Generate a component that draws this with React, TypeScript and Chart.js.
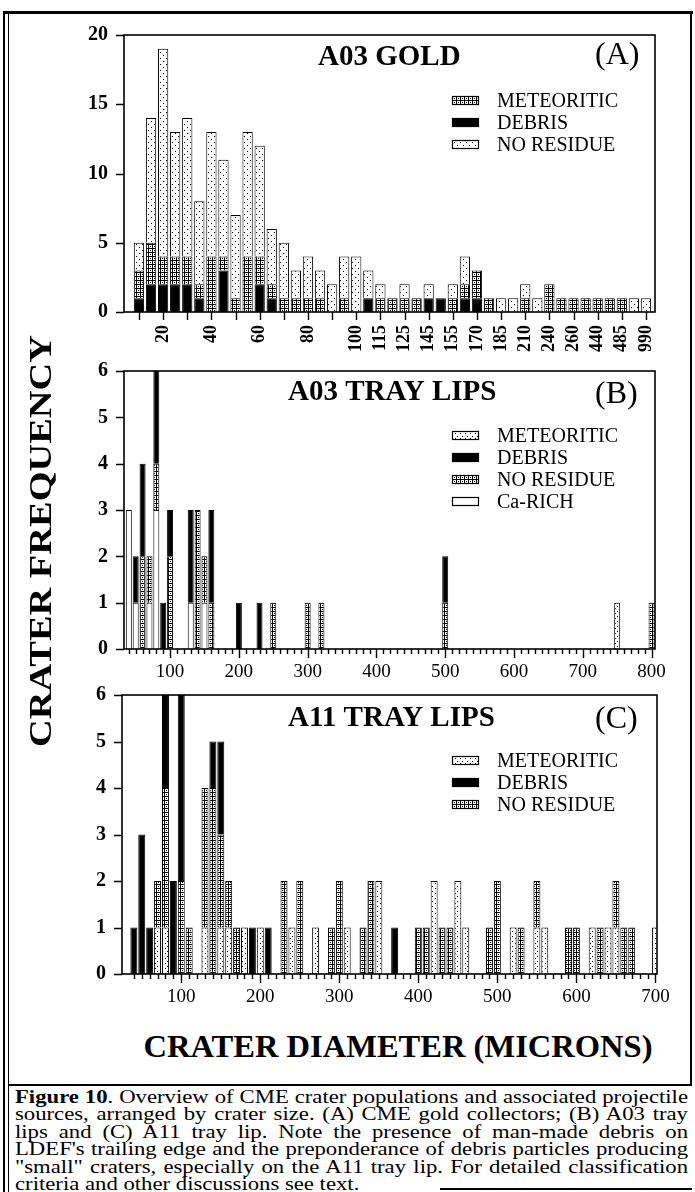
import React, { useEffect, useRef } from 'react';
import { Chart, registerables } from 'chart.js';

Chart.register(...registerables);

const SERIF = '"Liberation Serif", "Times New Roman", Times, serif';

// ---------- Panel A : A03 GOLD (size classes, one bar per class) ----------
const tickLabelsA = ['', '', '20', '', '', '', '40', '', '', '', '60', '', '', '', '80', '', '', '', '100', '', '115', '', '125', '', '145', '', '155', '', '170', '', '185', '', '210', '', '240', '', '260', '', '440', '', '485', '', '990'];
const debrisA = [1, 2, 2, 2, 2, 1, 0, 3, 0, 0, 2, 1, 0, 0, 0, 0, 0, 0, 0, 1, 0, 0, 0, 0, 1, 1, 0, 1, 1, 0, 0, 0, 0, 0, 0, 0, 0, 0, 0, 0, 0, 0, 0];
const meteoriticA = [2, 3, 2, 2, 2, 1, 4, 1, 1, 4, 2, 1, 1, 1, 1, 1, 0, 1, 0, 0, 1, 1, 1, 1, 0, 0, 1, 1, 2, 1, 0, 0, 1, 0, 2, 1, 1, 1, 1, 1, 1, 0, 0];
const noResidueA = [2, 9, 15, 9, 10, 6, 9, 7, 6, 9, 8, 4, 4, 2, 3, 2, 2, 3, 4, 2, 1, 0, 1, 0, 1, 0, 1, 2, 0, 0, 1, 1, 1, 1, 0, 0, 0, 0, 0, 0, 0, 1, 1];

// ---------- Panel B : A03 TRAY LIPS (diameter in microns) ----------
const diametersB = [40, 50, 60, 70, 80, 90, 100, 130, 140, 150, 160, 200, 230, 250, 300, 320, 500, 750, 800];
const caRichB = [3, 1, 0, 1, 3, 0, 0, 1, 0, 1, 0, 0, 0, 0, 0, 0, 0, 0, 0];
const meteoriticB = [0, 0, 0, 0, 0, 0, 0, 0, 0, 0, 0, 0, 0, 0, 0, 0, 0, 1, 0];
const noResidueB = [0, 0, 2, 1, 1, 0, 2, 0, 3, 1, 1, 0, 0, 1, 1, 1, 1, 0, 1];
const debrisB = [0, 1, 2, 0, 2, 1, 1, 2, 0, 0, 2, 1, 1, 0, 0, 0, 1, 0, 0];

// ---------- Panel C : A11 TRAY LIPS (diameter in microns) ----------
const diametersC = [40, 50, 60, 70, 80, 90, 100, 110, 130, 140, 150, 160, 170, 180, 190, 200, 210, 230, 240, 250, 270, 290, 300, 310, 330, 340, 350, 370, 400, 410, 420, 430, 440, 450, 460, 490, 500, 520, 530, 550, 560, 590, 600, 620, 630, 640, 650, 660, 670, 700];
const meteoriticC = [0, 0, 0, 1, 1, 0, 0, 0, 1, 0, 1, 1, 0, 1, 0, 1, 0, 0, 1, 0, 1, 0, 0, 1, 0, 0, 2, 0, 0, 0, 2, 0, 0, 2, 1, 0, 0, 1, 0, 1, 1, 0, 0, 1, 0, 1, 1, 0, 0, 1];
const noResidueC = [0, 0, 0, 1, 3, 0, 2, 1, 3, 4, 2, 1, 1, 0, 0, 0, 0, 2, 0, 2, 0, 1, 2, 0, 1, 2, 0, 0, 1, 1, 0, 1, 1, 0, 0, 1, 2, 0, 1, 1, 0, 1, 1, 0, 1, 0, 1, 1, 1, 0];
const debrisC = [1, 3, 1, 0, 2, 2, 4, 0, 0, 1, 2, 0, 0, 0, 1, 0, 1, 0, 0, 0, 0, 0, 0, 0, 0, 0, 0, 1, 0, 0, 0, 0, 0, 0, 0, 0, 0, 0, 0, 0, 0, 0, 0, 0, 0, 0, 0, 0, 0, 0];

const captionLines = [
  ['Figure 10', '. Overview of CME crater populations and associated projectile'],
  ['', 'sources, arranged by crater size.  (A) CME gold collectors; (B) A03 tray'],
  ['', 'lips and (C) A11 tray lip.  Note the presence of man-made debris on'],
  ['', "LDEF's trailing edge and the preponderance of debris particles producing"],
  ['', '"small" craters, especially on the A11 tray lip.  For detailed classification'],
  ['', 'criteria and other discussions see text.'],
];

// ---------- helpers ----------
function makePattern(size: number, draw: (g: CanvasRenderingContext2D) => void) {
  const c = document.createElement('canvas');
  c.width = size;
  c.height = size;
  const g = c.getContext('2d')!;
  g.fillStyle = '#fff';
  g.fillRect(0, 0, size, size);
  g.fillStyle = '#000';
  draw(g);
  return g.createPattern(c, 'repeat')!;
}

let measureCtx: CanvasRenderingContext2D | null = null;
function measure(text: string, font: string) {
  if (!measureCtx) measureCtx = document.createElement('canvas').getContext('2d');
  measureCtx!.font = font;
  return measureCtx!.measureText(text).width;
}

function pts(xs: number[], ys: number[]) {
  return ys.map((y, i) => ({ x: xs[i], y })).filter((p) => p.y > 0);
}

type LegendItem = { label: string; ds: number };
type PanelSpec = {
  top: number;
  height: number;
  left: number;
  right: number;
  plotTop: number;
  plotBottom: number;
  xMin: number;
  xMax: number;
  yMax: number;
  yStep: number;
  xTicks: number[];
  xTickLen: (v: number) => number;
  xLabel: (v: number) => string;
  xFont: { family: string; size: number; weight: string };
  xRotation: number;
  xPadding: number;
  barPct: number;
  title: string;
  titleX: number;
  titleBase: number;
  letter: string;
  letterX: number;
  letterBase: number;
  legendRows: number[];
  legend: LegendItem[];
  datasets: { label: string; data: { x: number; y: number }[]; backgroundColor: any }[];
};

function panelPlugin(p: PanelSpec) {
  return {
    id: 'panelDecor' + p.letter.replace(/[()]/g, ''),
    afterDatasetsDraw(chart: any) {
      const { ctx, chartArea: a, scales } = chart;
      const xs = scales.x;
      const ys = scales.y;
      ctx.save();
      ctx.strokeStyle = '#000';
      ctx.lineWidth = 1.6;
      ctx.strokeRect(a.left, a.top, a.right - a.left, a.bottom - a.top);
      ctx.lineWidth = 1.4;
      ctx.beginPath();
      for (const t of xs.ticks) {
        const len = p.xTickLen(t.value);
        if (!len) continue;
        const px = Math.round(xs.getPixelForValue(t.value)) + 0.5;
        ctx.moveTo(px, a.bottom);
        ctx.lineTo(px, a.bottom + len);
      }
      for (const t of ys.ticks) {
        const py = Math.round(ys.getPixelForValue(t.value)) + 0.5;
        ctx.moveTo(a.left, py);
        ctx.lineTo(a.left - 8, py);
      }
      ctx.stroke();

      ctx.fillStyle = '#000';
      ctx.textAlign = 'left';
      ctx.textBaseline = 'alphabetic';
      ctx.font = `bold 29px ${SERIF}`;
      ctx.fillText(p.title, p.titleX, p.titleBase - p.top);
      ctx.font = `32px ${SERIF}`;
      ctx.fillText(p.letter, p.letterX, p.letterBase - p.top);

      ctx.font = `20px ${SERIF}`;
      p.legend.forEach((it, i) => {
        const cy = p.legendRows[i] - p.top;
        const ds = chart.data.datasets[it.ds];
        ctx.fillStyle = ds.backgroundColor;
        ctx.fillRect(452, cy - 4, 26, 8);
        ctx.lineWidth = 1.2;
        ctx.strokeStyle = '#000';
        ctx.strokeRect(452.5, cy - 3.5, 26, 8);
        ctx.fillStyle = '#000';
        ctx.fillText(it.label, 497, cy + 7);
      });
      ctx.restore();
    },
  };
}

function buildConfig(p: PanelSpec): any {
  return {
    type: 'bar',
    data: {
      datasets: p.datasets.map((d) => ({
        ...d,
        borderColor: '#000',
        borderWidth: 1,
        barPercentage: p.barPct,
        categoryPercentage: 1,
      })),
    },
    options: {
      responsive: false,
      maintainAspectRatio: false,
      animation: false,
      layout: { padding: { top: p.plotTop - p.top, right: 695 - p.right, left: 0, bottom: 0 } },
      plugins: { legend: { display: false }, tooltip: { enabled: false }, title: { display: false } },
      scales: {
        x: {
          type: 'linear',
          min: p.xMin,
          max: p.xMax,
          offset: false,
          stacked: true,
          grid: { display: false, drawTicks: false, offset: false },
          border: { display: false },
          afterBuildTicks: (s: any) => {
            s.ticks = p.xTicks.map((v) => ({ value: v }));
          },
          afterFit: (s: any) => {
            s.height = p.top + p.height - p.plotBottom;
          },
          ticks: {
            autoSkip: false,
            minRotation: p.xRotation,
            maxRotation: p.xRotation,
            padding: p.xPadding,
            color: '#000',
            font: p.xFont,
            callback: (v: number) => p.xLabel(v),
          },
        },
        y: {
          min: 0,
          max: p.yMax,
          stacked: true,
          grid: { display: false, drawTicks: false },
          border: { display: false },
          afterFit: (s: any) => {
            s.width = p.left;
          },
          ticks: {
            stepSize: p.yStep,
            padding: 16,
            color: '#000',
            font: { family: SERIF, size: 20, weight: 'bold' },
          },
        },
      },
    },
    plugins: [panelPlugin(p)],
  };
}

function Panel({ make }: { make: () => PanelSpec }) {
  const ref = useRef<HTMLCanvasElement>(null);
  const specRef = useRef<PanelSpec | null>(null);
  if (!specRef.current) specRef.current = make();
  const spec = specRef.current;
  useEffect(() => {
    const chart = new Chart(ref.current!, buildConfig(spec));
    return () => chart.destroy();
  }, []);
  return (
    <canvas
      ref={ref}
      width={695}
      height={spec.height}
      style={{ position: 'absolute', left: 0, top: spec.top, width: 695, height: spec.height }}
    />
  );
}

const range = (a: number, b: number, s: number) => {
  const out: number[] = [];
  for (let v = a; v <= b; v += s) out.push(v);
  return out;
};

function specA(): PanelSpec {
  const dense = makePattern(4, (g) => { g.fillRect(0, 0, 4, 1); g.fillRect(0, 0, 1, 4); g.fillRect(2, 2, 1, 1); });
  const sparse = makePattern(6, (g) => { g.fillRect(1, 1, 1, 1); g.fillRect(4, 4, 1, 1); });
  const idx = tickLabelsA.map((_, i) => i);
  return {
    top: 0, height: 365, left: 124, right: 655, plotTop: 35, plotBottom: 312,
    xMin: -1.24, xMax: 42.75, yMax: 20, yStep: 5,
    xTicks: idx.filter((i) => i % 2 === 0),
    xTickLen: () => 8,
    xLabel: (v) => tickLabelsA[v] ?? '',
    xFont: { family: SERIF, size: 18, weight: 'bold' },
    xRotation: 90, xPadding: 13, barPct: 0.85,
    title: 'A03 GOLD', titleX: 318, titleBase: 65,
    letter: '(A)', letterX: 595, letterBase: 64,
    legendRows: [100, 122, 144],
    legend: [{ label: 'METEORITIC', ds: 1 }, { label: 'DEBRIS', ds: 0 }, { label: 'NO RESIDUE', ds: 2 }],
    datasets: [
      { label: 'DEBRIS', data: pts(idx, debrisA), backgroundColor: '#000' },
      { label: 'METEORITIC', data: pts(idx, meteoriticA), backgroundColor: dense },
      { label: 'NO RESIDUE', data: pts(idx, noResidueA), backgroundColor: sparse },
    ],
  };
}

function specB(): PanelSpec {
  const dense = makePattern(4, (g) => { g.fillRect(0, 0, 4, 1); g.fillRect(0, 0, 1, 4); g.fillRect(2, 2, 1, 1); });
  const sparse = makePattern(5, (g) => { g.fillRect(2, 1, 1, 1); g.fillRect(0, 3, 1, 1); });
  return {
    top: 335, height: 350, left: 124, right: 655, plotTop: 371, plotBottom: 649,
    xMin: 33, xMax: 805, yMax: 6, yStep: 1,
    xTicks: range(40, 800, 10),
    xTickLen: (v) => (v % 100 === 0 ? 9 : 5),
    xLabel: (v) => (v % 100 === 0 ? String(v) : ''),
    xFont: { family: SERIF, size: 19, weight: 'normal' },
    xRotation: 0, xPadding: 12, barPct: 0.87,
    title: 'A03 TRAY LIPS', titleX: 288, titleBase: 400,
    letter: '(B)', letterX: 595, letterBase: 403,
    legendRows: [435, 457, 479, 501],
    legend: [
      { label: 'METEORITIC', ds: 1 },
      { label: 'DEBRIS', ds: 3 },
      { label: 'NO RESIDUE', ds: 2 },
      { label: 'Ca-RICH', ds: 0 },
    ],
    datasets: [
      { label: 'Ca-RICH', data: pts(diametersB, caRichB), backgroundColor: '#fff' },
      { label: 'METEORITIC', data: pts(diametersB, meteoriticB), backgroundColor: sparse },
      { label: 'NO RESIDUE', data: pts(diametersB, noResidueB), backgroundColor: dense },
      { label: 'DEBRIS', data: pts(diametersB, debrisB), backgroundColor: '#000' },
    ],
  };
}

function specC(): PanelSpec {
  const dense = makePattern(4, (g) => { g.fillRect(0, 0, 4, 1); g.fillRect(0, 0, 1, 4); g.fillRect(2, 2, 1, 1); });
  const sparse = makePattern(5, (g) => { g.fillRect(2, 1, 1, 1); g.fillRect(0, 3, 1, 1); });
  return {
    top: 660, height: 355, left: 122, right: 657, plotTop: 695, plotBottom: 974,
    xMin: 25, xMax: 702, yMax: 6, yStep: 1,
    xTicks: range(40, 700, 10),
    xTickLen: (v) => (v % 100 === 0 ? 9 : 5),
    xLabel: (v) => (v % 100 === 0 ? String(v) : ''),
    xFont: { family: SERIF, size: 19, weight: 'normal' },
    xRotation: 0, xPadding: 12, barPct: 0.88,
    title: 'A11 TRAY LIPS', titleX: 288, titleBase: 726,
    letter: '(C)', letterX: 595, letterBase: 728,
    legendRows: [760, 782, 804],
    legend: [{ label: 'METEORITIC', ds: 0 }, { label: 'DEBRIS', ds: 2 }, { label: 'NO RESIDUE', ds: 1 }],
    datasets: [
      { label: 'METEORITIC', data: pts(diametersC, meteoriticC), backgroundColor: sparse },
      { label: 'NO RESIDUE', data: pts(diametersC, noResidueC), backgroundColor: dense },
      { label: 'DEBRIS', data: pts(diametersC, debrisC), backgroundColor: '#000' },
    ],
  };
}

function Line({ x, y, w, h }: { x: number; y: number; w: number; h: number }) {
  return <div style={{ position: 'absolute', left: x, top: y, width: w, height: h, background: '#000' }} />;
}

export default function App() {
  const bigFont = `bold 32px ${SERIF}`;
  const freqText = 'CRATER FREQUENCY';
  const diamText = 'CRATER DIAMETER (MICRONS)';
  const freqScale = 412 / measure(freqText, bigFont);
  const diamScale = 509 / measure(diamText, bigFont);

  const capSize = 19;
  const capW = 673;
  const capWidths = captionLines.slice(0, 5).map(
    ([b, n]) => measure(b, `bold ${capSize}px ${SERIF}`) + measure(n, `${capSize}px ${SERIF}`)
  );
  const capScale = capW / (Math.max(...capWidths) + 2);

  return (
    <div style={{ position: 'absolute', left: 0, top: 0, width: 695, height: 1192, background: '#fff', overflow: 'hidden', fontFamily: SERIF, color: '#000' }}>
      {/* frame */}
      <Line x={3} y={11} w={690} h={3} />
      <Line x={3} y={11} w={2} h={1181} />
      <Line x={8} y={14} w={1} h={1178} />
      <Line x={690} y={11} w={2} h={1074} />
      <Line x={8} y={1084} w={684} h={1.5} />
      <Line x={440} y={1188} w={252} h={1.5} />

      <Panel make={specA} />
      <Panel make={specB} />
      <Panel make={specC} />

      <div
        style={{
          position: 'absolute', left: 40, top: 541, whiteSpace: 'nowrap',
          font: bigFont, lineHeight: '32px',
          transform: `translate(-50%, -50%) rotate(-90deg) scaleX(${freqScale})`,
        }}
      >
        {freqText}
      </div>
      <div
        style={{
          position: 'absolute', left: 397.5, top: 1046, whiteSpace: 'nowrap',
          font: bigFont, lineHeight: '32px',
          transform: `translate(-50%, -50%) scaleX(${diamScale})`,
        }}
      >
        {diamText}
      </div>

      <div
        style={{
          position: 'absolute', left: 15, top: 1088, width: capW / capScale,
          transform: `scaleX(${capScale})`, transformOrigin: 'left top',
          fontSize: capSize, lineHeight: '17.4px',
        }}
      >
        {captionLines.map(([b, n], i) => (
          <div
            key={i}
            style={{
              textAlign: i < captionLines.length - 1 ? 'justify' : 'left',
              textAlignLast: i < captionLines.length - 1 ? 'justify' : 'left',
              whiteSpace: 'normal',
            } as any}
          >
            {b ? <b>{b}</b> : null}
            {n}
          </div>
        ))}
      </div>
    </div>
  );
}
